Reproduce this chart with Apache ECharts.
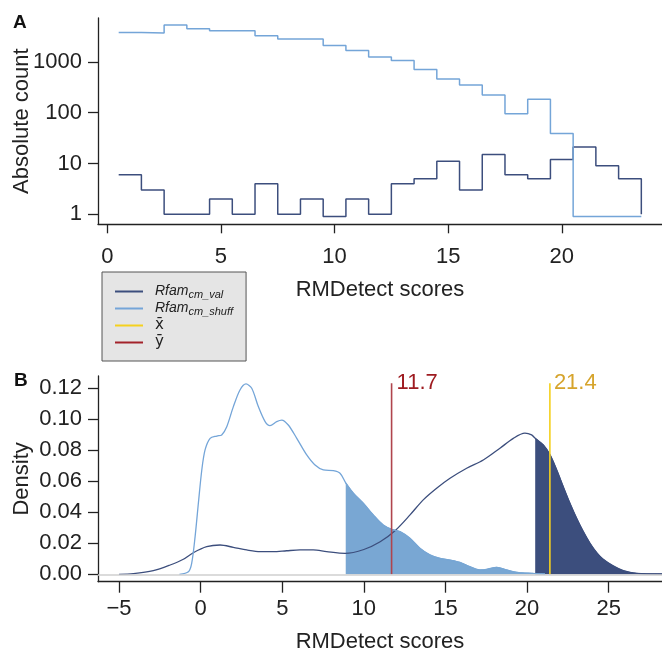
<!DOCTYPE html>
<html>
<head>
<meta charset="utf-8">
<script src="https://cdn.jsdelivr.net/npm/echarts@6/dist/echarts.min.js"></script>
<style>
  html, body { margin: 0; padding: 0; background: #fff; }
  #chart { width: 662px; height: 653px; }
</style>
</head>
<body>
<div id="chart"></div>
<script>
// ---- panel A : histogram of scores (bins of width 1, centred on integers)
var binCentres = [1, 2, 3, 4, 5, 6, 7, 8, 9, 10, 11, 12, 13, 14, 15, 16, 17, 18, 19, 20, 21, 22, 23];
var valCounts = [6, 3, 1, 1, 2, 1, 4, 1, 2, 0.9, 2, 1, 4, 5, 11, 3, 15, 6, 5, 12, 21, 9, 5];
var shuffCounts = [3776, 3675, 5280, 4465, 4075, 4075, 3250, 2800, 2800, 2094, 1667, 1237, 1060, 705, 456, 348, 221, 95, 184, 39, 0.9, 0.9, 0.9];
var valEnd = 1;
var shuffEnd = 0.9;
var countTicks = [1, 10, 100, 1000];
var scoreTicksA = [0, 5, 10, 15, 20];

// ---- panel B : density estimates
var valX = [-5, -4.12, -2.9, -1.87, -1.06, -0.45, 0.37, 1.19, 2.0, 2.82, 3.64, 4.45, 5.27, 6.09, 6.9, 7.72, 8.85, 10.0, 11.0, 11.91, 12.83, 13.64, 14.46, 15.28, 16.3, 17.32, 18.34, 19.16, 19.87, 20.28, 20.5, 21.0, 21.41, 21.82, 22.22, 22.63, 23.04, 23.45, 23.86, 24.27, 24.67, 25.28, 25.9, 26.72, 28.27];
var valY = [0, 0.0004, 0.0023, 0.006, 0.0097, 0.0139, 0.0178, 0.0189, 0.0174, 0.0157, 0.0146, 0.0146, 0.0152, 0.0157, 0.0157, 0.0146, 0.0135, 0.016, 0.021, 0.0281, 0.0383, 0.048, 0.0555, 0.0619, 0.0684, 0.0737, 0.0813, 0.0877, 0.091, 0.0899, 0.0877, 0.0834, 0.077, 0.0673, 0.0565, 0.0458, 0.0361, 0.0275, 0.02, 0.014, 0.0097, 0.0054, 0.0023, 0.0006, 0.0002];
var shuffX = [-1.3, -0.75, -0.55, -0.34, -0.14, 0.07, 0.27, 0.58, 0.99, 1.29, 1.6, 2.0, 2.41, 2.78, 3.13, 3.54, 3.95, 4.25, 4.66, 4.97, 5.37, 5.89, 6.5, 7.01, 7.52, 8.13, 8.54, 8.89, 9.36, 9.97, 10.58, 11.19, 11.71, 12.22, 12.83, 13.44, 14.05, 14.67, 15.28, 15.89, 16.5, 17.11, 17.53, 18.14, 18.75, 19.37, 20.38, 21.1];
var shuffY = [0, 0.0017, 0.0071, 0.0243, 0.0458, 0.0673, 0.0802, 0.0877, 0.0892, 0.0899, 0.0952, 0.108, 0.1189, 0.1228, 0.12, 0.108, 0.0985, 0.0959, 0.0985, 0.0995, 0.0963, 0.0877, 0.077, 0.0705, 0.0673, 0.0668, 0.0652, 0.059, 0.0523, 0.0458, 0.0383, 0.0318, 0.029, 0.0275, 0.0232, 0.0168, 0.0125, 0.0103, 0.0092, 0.0077, 0.0049, 0.0028, 0.0032, 0.0045, 0.0028, 0.0013, 0.0006, 0.0002];
var shuffFillFrom = 8.89;
var valFillFrom = 20.5;
var meanX = 21.4;   // x-bar
var meanY = 11.7;   // y-bar
var meanTop = 0.1232;
var densityTicks = [0, 0.02, 0.04, 0.06, 0.08, 0.1, 0.12];
var scoreTicksB = [-5, 0, 5, 10, 15, 20, 25];

var font = '"Liberation Sans", Arial, Helvetica, sans-serif';
var ink = '#222';
var valColor = '#3c4e7d';
var shuffColor = '#74a5d8';
var shuffFill = '#79a7d3';
var yColor = '#b0454d';
var xColor = '#f5d11e';

function stepData(counts, endVal) {
  var d = binCentres.map(function (c, i) { return [c - 0.5, counts[i]]; });
  d.push([binCentres[binCentres.length - 1] + 0.5, endVal]);
  return d;
}
function pairs(xs, ys, from) {
  var d = [];
  xs.forEach(function (x, i) { if (from == null || x >= from) d.push([x, ys[i]]); });
  return d;
}
function minus(v) { return v < 0 ? '\u2212' + Math.abs(v) : String(v); }

function axis(extra) {
  var base = {
    axisLine: { show: true, onZero: false, lineStyle: { color: ink, width: 1.3 } },
    axisTick: { show: true, lineStyle: { color: ink, width: 1.3 } },
    axisLabel: { color: ink, fontSize: 22, fontFamily: font },
    splitLine: { show: false },
    nameLocation: 'middle',
    nameMoveOverlap: false,
    nameTextStyle: { color: ink, fontSize: 22, fontFamily: font }
  };
  for (var k in extra) {
    if (typeof extra[k] === 'object' && base[k] && !Array.isArray(extra[k])) {
      base[k] = Object.assign({}, base[k], extra[k]);
    } else {
      base[k] = extra[k];
    }
  }
  return base;
}

var curve = 0.3;

var chart = echarts.init(document.getElementById('chart'));
chart.setOption({
  animation: false,
  backgroundColor: '#fff',
  title: [
    { text: 'A', left: 13, top: 13, padding: 0, textStyle: { fontSize: 19, fontWeight: 'bold', color: '#111', fontFamily: font } },
    { text: 'B', left: 14, top: 371, padding: 0, textStyle: { fontSize: 19, fontWeight: 'bold', color: '#111', fontFamily: font } }
  ],
  grid: [
    { left: 98, top: 18, width: 564, height: 206.3, outerBoundsMode: 'none' },
    { left: 98, top: 376, width: 564, height: 205.7, outerBoundsMode: 'none' }
  ],
  legend: {
    left: 102, top: 272,
    orient: 'vertical',
    backgroundColor: '#e5e5e5',
    borderColor: '#555', borderWidth: 1, borderRadius: 0,
    padding: [11, 13, 10, 13],
    itemGap: 0,
    itemWidth: 28, itemHeight: 2,
    icon: 'rect',
    data: ['Rfam_cm_val', 'Rfam_cm_shuff', 'x\u0304', 'y\u0304'],
    formatter: function (name) {
      if (name.indexOf('Rfam_') === 0) return '{it|Rfam}{sub|' + name.slice(5) + '}';
      return '{n|' + name + '}';
    },
    textStyle: {
      color: ink, fontFamily: font,
      rich: {
        it: { fontStyle: 'italic', fontSize: 14, lineHeight: 15, padding: [0, 0, 0, 7], fontFamily: font, color: ink },
        sub: { fontStyle: 'italic', fontSize: 11, lineHeight: 11, padding: [6, 0, 0, 0], fontFamily: font, color: ink },
        n: { fontSize: 15, lineHeight: 15, height: 15, padding: [1, 0, 1, 7], fontFamily: '"DejaVu Sans", sans-serif', color: ink }
      }
    }
  },
  xAxis: [
    axis({
      type: 'value', gridIndex: 0, min: -0.41, max: 24.41,
      axisTick: { length: 9, customValues: scoreTicksA },
      axisLabel: { customValues: scoreTicksA, margin: 22 },
      name: 'RMDetect scores', nameGap: 55
    }),
    axis({
      type: 'value', gridIndex: 1, min: -6.29, max: 28.27,
      axisTick: { length: 11, customValues: scoreTicksB },
      axisLabel: { customValues: scoreTicksB, margin: 16, formatter: minus },
      name: 'RMDetect scores', nameGap: 49
    })
  ],
  yAxis: [
    axis({
      type: 'log', logBase: 10, gridIndex: 0, min: 0.635, max: 7260,
      axisTick: { length: 10, customValues: countTicks },
      axisLabel: { customValues: countTicks, margin: 16, formatter: function (v) { return String(Math.round(v)); } },
      name: 'Absolute count', nameGap: 65
    }),
    axis({
      type: 'value', gridIndex: 1, min: -0.00477, max: 0.1279,
      axisTick: { length: 10, customValues: densityTicks },
      axisLabel: { customValues: densityTicks, margin: 16, formatter: function (v) { return v.toFixed(2); } },
      name: 'Density', nameGap: 65
    })
  ],
  series: [
    {
      name: 'Rfam_cm_val', type: 'line', xAxisIndex: 0, yAxisIndex: 0, step: 'end',
      data: stepData(valCounts, valEnd), symbol: 'none',
      lineStyle: { color: valColor, width: 1.5 }, itemStyle: { color: valColor }
    },
    {
      name: 'Rfam_cm_shuff', type: 'line', xAxisIndex: 0, yAxisIndex: 0, step: 'end',
      data: stepData(shuffCounts, shuffEnd), symbol: 'none',
      lineStyle: { color: shuffColor, width: 1.5 }, itemStyle: { color: shuffColor }
    },
    {
      name: 'Rfam_cm_val', type: 'line', xAxisIndex: 1, yAxisIndex: 1,
      data: pairs(valX, valY), symbol: 'none', smooth: curve,
      lineStyle: { color: valColor, width: 1.3 }, itemStyle: { color: valColor },
      markLine: {
        silent: true, symbol: 'none', label: { show: false },
        lineStyle: { color: '#cfcfcf', width: 1.5, type: 'solid' },
        data: [{ yAxis: 0 }]
      }
    },
    {
      name: 'Rfam_cm_shuff', type: 'line', xAxisIndex: 1, yAxisIndex: 1,
      data: pairs(shuffX, shuffY), symbol: 'none', smooth: curve,
      lineStyle: { color: shuffColor, width: 1.3 }, itemStyle: { color: shuffColor }
    },
    {
      name: 'Rfam_cm_shuff', type: 'line', xAxisIndex: 1, yAxisIndex: 1,
      data: pairs(shuffX, shuffY, shuffFillFrom), symbol: 'none', smooth: curve,
      lineStyle: { color: shuffFill, width: 1 }, itemStyle: { color: shuffColor },
      areaStyle: { color: shuffFill, opacity: 1 }
    },
    {
      name: 'Rfam_cm_val', type: 'line', xAxisIndex: 1, yAxisIndex: 1,
      data: pairs(valX, valY, valFillFrom), symbol: 'none', smooth: curve,
      lineStyle: { color: valColor, width: 1 }, itemStyle: { color: valColor },
      areaStyle: { color: valColor, opacity: 1 }
    },
    {
      name: 'y\u0304', type: 'line', xAxisIndex: 1, yAxisIndex: 1,
      data: [[meanY, 0], [meanY, meanTop]], symbol: 'none',
      lineStyle: { color: yColor, width: 1.6 }, itemStyle: { color: '#a3222a' },
      endLabel: { show: true, formatter: function () { return meanY.toFixed(1); }, color: '#9e1b20', fontSize: 22, fontFamily: font, distance: 5 }
    },
    {
      name: 'x\u0304', type: 'line', xAxisIndex: 1, yAxisIndex: 1,
      data: [[meanX, 0], [meanX, meanTop]], symbol: 'none',
      lineStyle: { color: xColor, width: 1.6 }, itemStyle: { color: xColor },
      endLabel: { show: true, formatter: function () { return meanX.toFixed(1); }, color: '#d6a42c', fontSize: 22, fontFamily: font, distance: 4 }
    }
  ]
});
</script>
</body>
</html>
